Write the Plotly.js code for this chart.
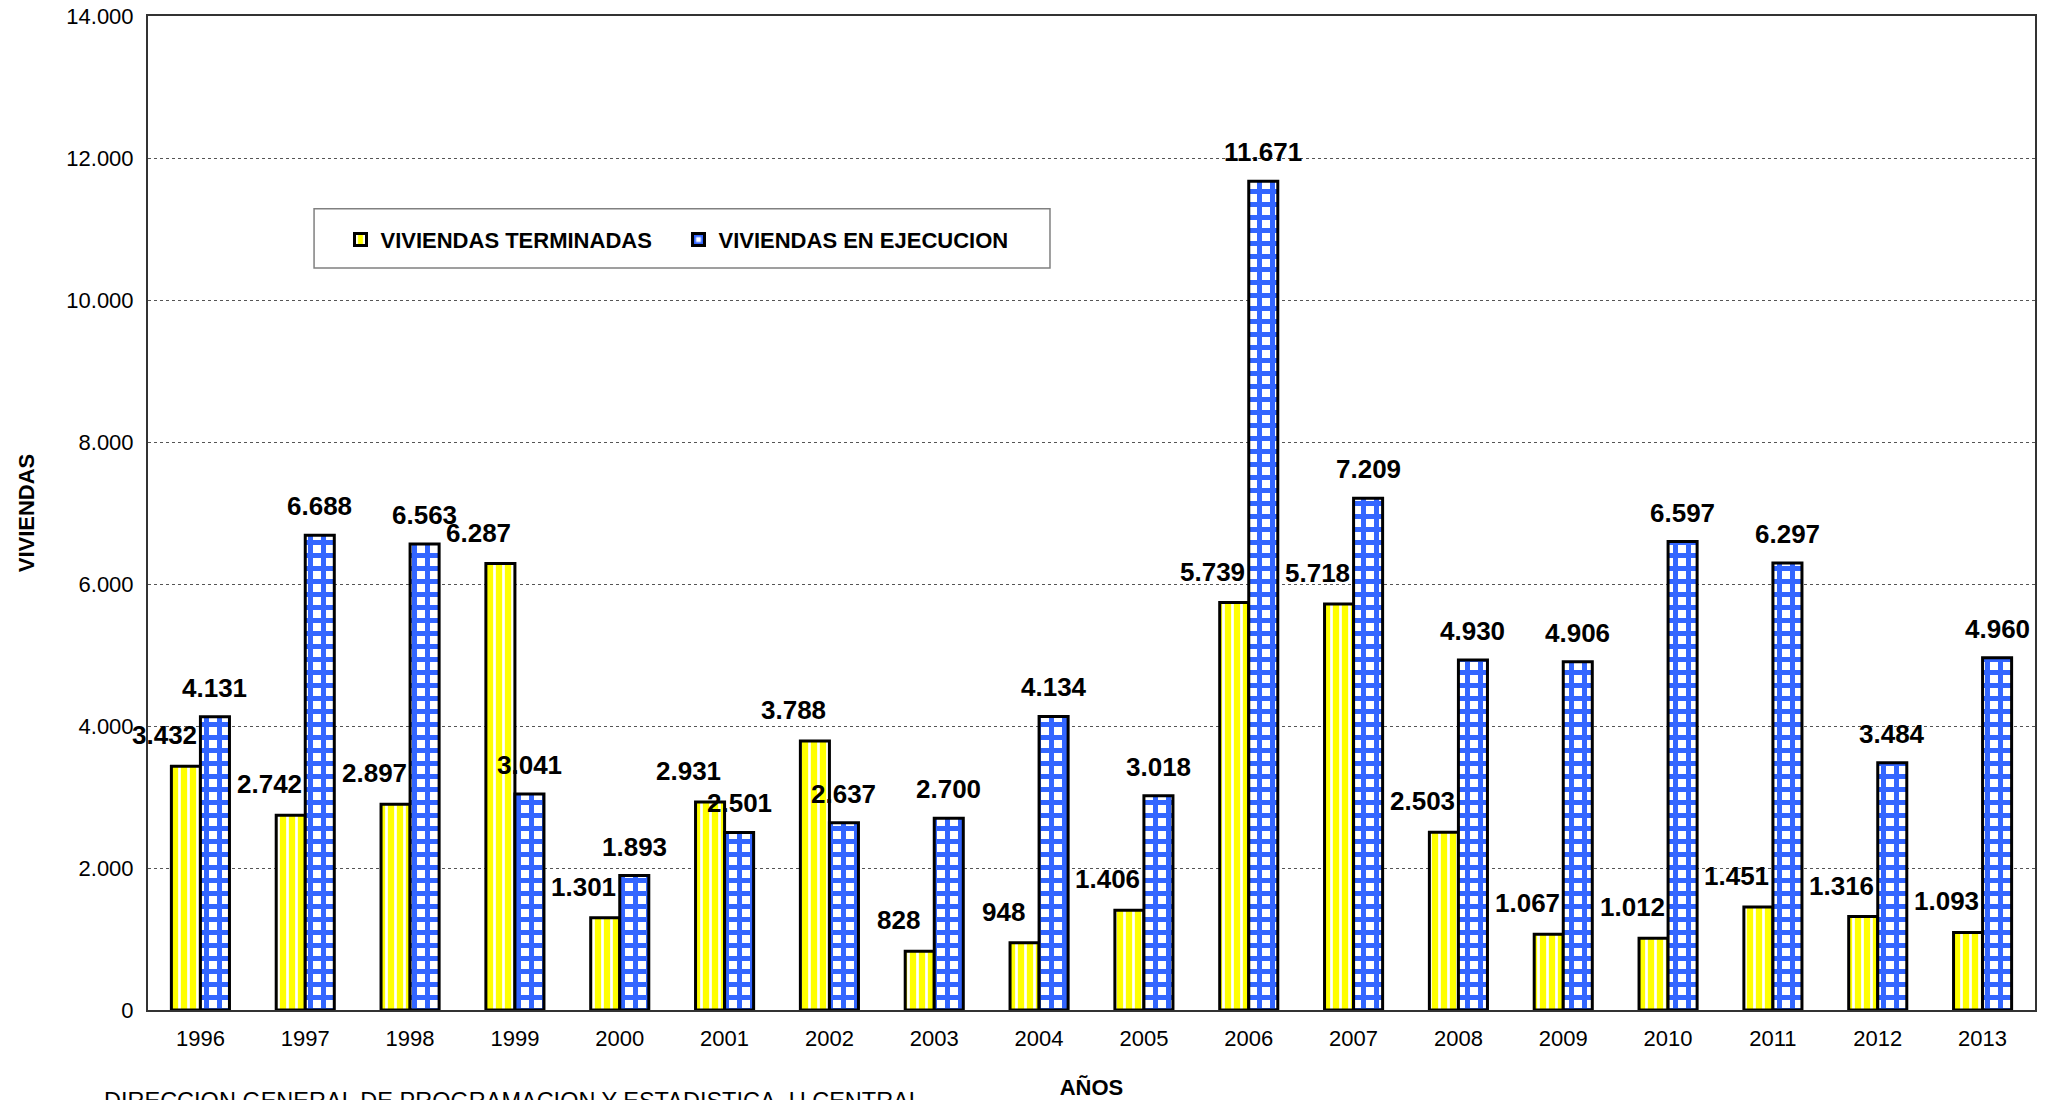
<!DOCTYPE html>
<html>
<head>
<meta charset="utf-8">
<script src="https://cdn.plot.ly/plotly-3.0.1.min.js"></script>
<style>
html,body{margin:0;padding:0;background:#fff;}
#chart{width:2053px;height:1100px;}
</style>
</head>
<body>
<div id="chart"></div>
<script>
const years = ['1996','1997','1998','1999','2000','2001','2002','2003','2004','2005','2006','2007','2008','2009','2010','2011','2012','2013'];
const terminadas = [3432, 2742, 2897, 6287, 1301, 2931, 3788, 828, 948, 1406, 5739, 5718, 2503, 1067, 1012, 1451, 1316, 1093];
const ejecucion = [4131, 6688, 6563, 3041, 1893, 2501, 2637, 2700, 4134, 3018, 11671, 7209, 4930, 4906, 6597, 6297, 3484, 4960];
const yTicks = [0, 2000, 4000, 6000, 8000, 10000, 12000, 14000];
const seriesNames = ['VIVIENDAS TERMINADAS', 'VIVIENDAS EN EJECUCION'];
const sourceText = 'DIRECCION GENERAL DE PROGRAMACION Y ESTADISTICA. U.CENTRAL';

const FONT = 'Liberation Sans, Arial, sans-serif';
function fmt(n){ return String(n).replace(/\B(?=(\d{3})+(?!\d))/g, '.'); }

const traces = [
  {
    type: 'bar', name: '<b>' + seriesNames[0] + '</b>', x: years, y: terminadas,
    marker: {
      color: '#FFFF00',
      line: {color: '#000', width: 3},
      pattern: {shape: '|', fgcolor: '#FFFFFF', bgcolor: '#FFFF00', size: 9, solidity: 0.3}
    },
    hoverinfo: 'x+y'
  },
  {
    type: 'bar', name: '<b>' + seriesNames[1] + '</b>', x: years, y: ejecucion,
    marker: {
      color: '#3366FF',
      line: {color: '#000', width: 3},
      pattern: {shape: '+', fgcolor: '#3366FF', bgcolor: '#FFFFFF', size: 13, solidity: 0.62}
    },
    hoverinfo: 'x+y'
  }
];

// category axis: annotation x uses the category index
const annotations = [];
years.forEach((yr, i) => {
  annotations.push({
    x: i, y: terminadas[i], xref: 'x', yref: 'y', text: '<b>' + fmt(terminadas[i]) + '</b>',
    showarrow: false, xanchor: 'center', yanchor: 'bottom', xshift: -36, yshift: 14,
    font: {family: FONT, size: 26, color: '#000'}
  });
  annotations.push({
    x: i, y: ejecucion[i], xref: 'x', yref: 'y', text: '<b>' + fmt(ejecucion[i]) + '</b>',
    showarrow: false, xanchor: 'center', yanchor: 'bottom', xshift: 14.5, yshift: 12,
    font: {family: FONT, size: 26, color: '#000'}
  });
});
annotations.push({
  xref: 'paper', yref: 'paper', x: -0.0244, y: -0.076, xanchor: 'left', yanchor: 'top',
  text: sourceText, showarrow: false, font: {family: FONT, size: 23.5, color: '#000'}
});

const layout = {
  width: 2053, height: 1100,
  margin: {l: 148, r: 18, t: 16, b: 90},
  paper_bgcolor: '#fff', plot_bgcolor: '#fff',
  separators: ',.',
  font: {family: FONT, size: 22, color: '#000'},
  barmode: 'group', bargap: 0.446, bargroupgap: 0,
  showlegend: true,
  legend: {
    orientation: 'h', x: 0.102, y: 0.796, xanchor: 'left', yanchor: 'top',
    bgcolor: 'rgba(0,0,0,0)', borderwidth: 0,
    font: {family: FONT, size: 22, color: '#000'},
    entrywidth: 293, entrywidthmode: 'pixels'
  },
  xaxis: {
    type: 'category', range: [-0.5, years.length - 0.5],
    showline: true, linecolor: '#333', linewidth: 2, mirror: true,
    ticks: '', tickfont: {family: FONT, size: 22, color: '#000'}, ticklabelstandoff: 8,
    title: {text: '<b>AÑOS</b>', font: {family: FONT, size: 22, color: '#000'}, standoff: 29},
    showgrid: false, fixedrange: true
  },
  yaxis: {
    range: [0, 14000], tickvals: yTicks, tickformat: ',d',
    showline: true, linecolor: '#333', linewidth: 2, mirror: true,
    ticks: '', tickfont: {family: FONT, size: 22, color: '#000'}, ticklabelstandoff: 8,
    showgrid: true, gridcolor: '#555', gridwidth: 1, griddash: 'dot', zeroline: false,
    title: {text: '<b>VIVIENDAS</b>', font: {family: FONT, size: 22, color: '#000'}, standoff: 26},
    fixedrange: true
  },
  shapes: [{
    type: 'rect', xref: 'paper', yref: 'paper', x0: 0.088, x1: 0.478, y0: 0.7465, y1: 0.806,
    line: {color: '#808080', width: 1.5}, fillcolor: '#fff', layer: 'below'
  }],
  annotations: annotations
};

Plotly.newPlot('chart', traces, layout, {displayModeBar: false, staticPlot: true});
</script>
</body>
</html>
